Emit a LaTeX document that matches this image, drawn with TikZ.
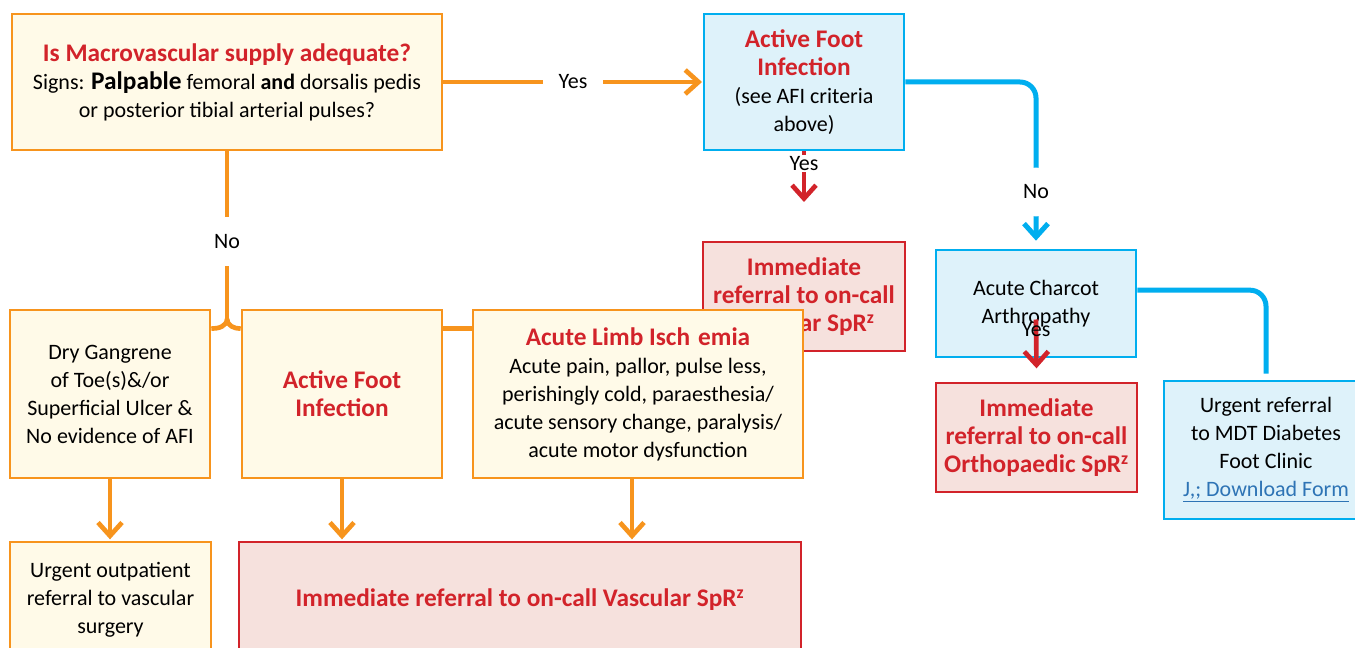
\documentclass[tikz,border=0pt]{standalone}
\usepackage{fontspec}
\setmainfont{Carlito}
\usetikzlibrary{arrows.meta}
\definecolor{orng}{RGB}{247,148,29}
\definecolor{cream}{RGB}{255,250,232}
\definecolor{sky}{RGB}{0,174,239}
\definecolor{skyfill}{RGB}{222,242,250}
\definecolor{rd}{RGB}{210,35,42}
\definecolor{rdfill}{RGB}{246,225,221}
\definecolor{lnk}{RGB}{46,116,181}
\newcommand\mytitle[1]{{\fontsize{19}{21}\selectfont\bfseries\color{rd}#1}}
\begin{document}
\begin{tikzpicture}[x=0.75pt,y=-0.75pt,
  box/.style={draw,line width=2pt,inner sep=0pt,align=center,font=\fontsize{16.5}{21}\selectfont},
  obox/.style={box,draw=orng,fill=cream},
  bbox/.style={box,draw=sky,fill=skyfill},
  rbox/.style={box,draw=rd,fill=rdfill},
  oline/.style={draw=orng,line width=3.5pt},
  bline/.style={draw=sky,line width=3.75pt},
  rline/.style={draw=rd,line width=3.5pt},
  tip/.style={-{Straight Barb[length=10pt,width=18pt]}},
  lbl/.style={fill=white,inner sep=2pt,font=\fontsize{16.5}{18}\selectfont,text=black}
]
\useasboundingbox (0,0) rectangle (1355,648);
\clip (0,0) rectangle (1355,648);
\fill[white] (0,0) rectangle (1355,648);

% boxes
\node[obox,minimum width=322.5pt,minimum height=102pt] (Q) at (227,82)
  {\mytitle{Is Macrovascular supply adequate?}\\Signs: {\bfseries\fontsize{19}{21}\selectfont Palpable} femoral \textbf{and} dorsalis pedis\\or posterior tibial arterial pulses?};
\node[bbox,minimum width=150pt,minimum height=102pt] (A1) at (804,82)
  {\mytitle{Active Foot}\\\mytitle{Infection}\\(see AFI criteria\\above)};
\node[rbox,minimum width=151.5pt,minimum height=81.75pt] (R1) at (804,296.5)
  {\mytitle{Immediate}\\\mytitle{referral to on-call}\\\mytitle{Vascular SpR\textsuperscript{z}}};
\node[bbox,minimum width=150pt,minimum height=80.25pt] (C) at (1036,303.5)
  {Acute Charcot\\Arthropathy};
\node[rbox,minimum width=150.75pt,minimum height=81.75pt] (R2) at (1036.5,437.5)
  {\mytitle{Immediate}\\\mytitle{referral to on-call}\\\mytitle{Orthopaedic SpR\textsuperscript{z}}};
\node[bbox,minimum width=153pt,minimum height=103.5pt] (M) at (1266,450)
  {Urgent referral\\to MDT Diabetes\\Foot Clinic\\\textcolor{lnk}{\underline{J,; Download Form}}};
\node[obox,minimum width=150pt,minimum height=126pt] (D) at (110,394)
  {Dry Gangrene\\of Toe(s)\&/or\\Superficial Ulcer \&\\No evidence of AFI};
\node[obox,minimum width=150pt,minimum height=126pt] (A2) at (342,394)
  {\mytitle{Active Foot}\\\mytitle{Infection}};
\node[obox,minimum width=247.5pt,minimum height=126pt] (L) at (638,394)
  {\mytitle{Acute Limb Isch\hspace{6pt}emia}\\Acute pain, pallor, pulse less,\\perishingly cold, paraesthesia/\\acute sensory change, paralysis/\\acute motor dysfunction};
\node[obox,minimum width=150.75pt,minimum height=87pt] (U) at (110.5,600)
  {Urgent outpatient\\referral to vascular\\surgery};
\node[rbox,minimum width=421.5pt,minimum height=87pt] (V) at (520,600)
  {\mytitle{Immediate referral to on-call Vascular SpR\textsuperscript{z}}};

% connectors
\draw[oline,tip,shorten >=0.5pt] (Q.east) -- node[lbl,inner xsep=12pt]{Yes} (A1.west);
\draw[rline,tip] (A1.south) -- node[lbl,pos=0.24,inner sep=1pt]{Yes} ([yshift=-38pt]A1.south);
\draw[bline,tip,rounded corners=12pt,shorten >=6pt] (A1.east) -| node[lbl,pos=0.83,inner ysep=13pt]{No} (C.north);
\draw[bline,rounded corners=12pt] ([yshift=10pt]C.east) -| ([yshift=4.5pt]M.north);
\draw[rline,tip] ([yshift=-12pt]C.center) -- node[pos=0.21,text=black,font=\fontsize{16.5}{18}\selectfont]{Yes} ([yshift=10pt]R2.north);

\coordinate (br) at (227,319);
\draw[oline] (Q.south) -- node[lbl,pos=0.535,inner ysep=13pt]{No} (br);
\draw[oline] (br) to[out=270,in=0] ([yshift=-15pt]D.north east);
\draw[oline] (br) to[out=270,in=180] ([yshift=-15pt]A2.north west);
\draw[oline] ([yshift=-15pt]A2.north east) -- ([yshift=-15pt]L.north west);

\draw[oline,tip,shorten >=1pt] (D.south) -- (D.south |- U.north);
\draw[oline,tip,shorten >=1pt] (A2.south) -- (A2.south |- V.north);
\draw[oline,tip,shorten >=1pt] ([xshift=-4.5pt]L.south) -- ([xshift=-4.5pt]L.south |- V.north);
\end{tikzpicture}
\end{document}
